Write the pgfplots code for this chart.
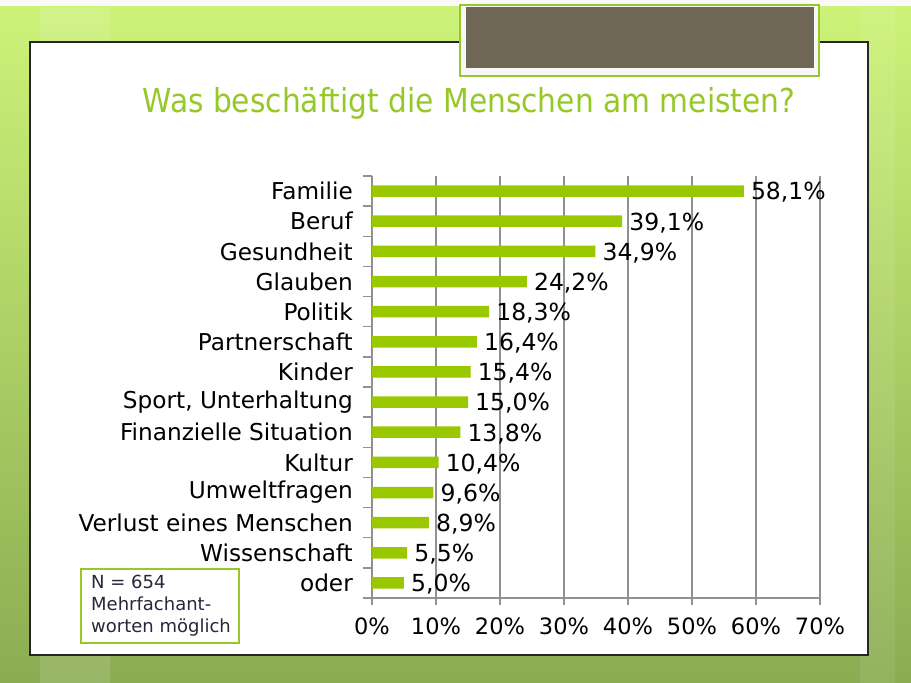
\documentclass[border=0pt]{standalone}
\usepackage{pgfplots}
\pgfplotsset{compat=1.18}
\usepackage{fontspec}
\setmainfont{DejaVu Sans}
\newfontfamily\titlefont{DejaVu Sans Condensed}
\definecolor{bargreen}{RGB}{153,200,0}
\definecolor{titlegreen}{RGB}{150,200,40}
\definecolor{bgtop}{RGB}{205,242,120}
\definecolor{bgbot}{RGB}{140,172,82}
\definecolor{brownbox}{RGB}{112,102,86}
\definecolor{gridgray}{RGB}{145,145,145}
\definecolor{notetext}{RGB}{45,35,60}
\begin{document}
\begin{tikzpicture}[x=1pt,y=1pt]
\useasboundingbox (0,0) rectangle (911,683);
% background
\fill[white!96!gray] (0,0) rectangle (911,683);
\shade[top color=bgtop, bottom color=bgbot] (0,0) rectangle (911,676);
\fill[white, opacity=0.12] (40,0) rectangle (110,676);
\fill[white, opacity=0.08] (860,0) rectangle (895,676);
% panel
\filldraw[fill=white, draw=black!85, line width=1.5pt] (30,28) rectangle (868,641);
% brown box
\filldraw[fill=white!94!gray, draw=titlegreen, line width=2pt] (460,607) rectangle (819,678);
\fill[brownbox] (466,615) rectangle (814,676);
% title
\node[anchor=base, text=titlegreen, font=\titlefont\fontsize{33}{38}\selectfont] at (469,570) {Was beschäftigt die Menschen am meisten?};
% note
\draw[titlegreen, line width=2pt] (81,40) rectangle (239,114);
\node[anchor=north west, inner sep=0pt, align=left, text=notetext,
  font=\fontsize{18}{22}\selectfont] at (91,108) {N = 654\\Mehrfachant-\\worten möglich};
\begin{axis}[
  at={(372pt,85pt)}, anchor=south west,
  scale only axis, width=448pt, height=422pt,
  clip=false,
  xbar, bar width=11.5pt,
  xmin=0, xmax=70,
  ymin=-0.5, ymax=13.5, y dir=reverse,
  axis x line*=bottom, axis y line*=left,
  axis line style={-, draw=gridgray, line width=1.5pt},
  xtick={0,10,...,70},
  xticklabels={0\%,10\%,20\%,30\%,40\%,50\%,60\%,70\%},
  ytick={0,...,13},
  yticklabels={Familie,Beruf,Gesundheit,Glauben,Politik,Partnerschaft,Kinder,{Sport, Unterhaltung},Finanzielle Situation,Kultur,Umweltfragen,Verlust eines Menschen,Wissenschaft,oder},
  minor ytick={-0.5,0.5,1.5,2.5,3.5,4.5,5.5,6.5,7.5,8.5,9.5,10.5,11.5,12.5,13.5},
  tick align=outside,
  major x tick style={draw=gridgray, line width=1.5pt},
  minor y tick style={draw=gridgray, line width=1.5pt},
  major y tick style={draw=none},
  major tick length=7pt, minor tick length=9pt,
  xmajorgrids, grid style={draw=gridgray, line width=1.5pt},
  ticklabel style={font=\fontsize{22.5}{27}\selectfont, text=black, inner sep=0pt},
  xticklabel style={anchor=north},
  yticklabel style={anchor=east, font=\fontsize{23.2}{27}\selectfont},
  xticklabel shift=13pt,
  yticklabel shift=12pt,
  nodes near coords={\pgfmathprintnumber[fixed,fixed zerofill,precision=1,use comma,assume math mode=true]{\pgfplotspointmeta}\%},
  nodes near coords style={anchor=west, inner sep=0pt, xshift=7pt, yshift=-1.5pt, text=black, font=\fontsize{23.5}{27}\selectfont},
  point meta=x,
]
\addplot[fill=bargreen, draw=none] coordinates {
(58.1,0) (39.1,1) (34.9,2) (24.2,3) (18.3,4) (16.4,5) (15.4,6)
(15.0,7) (13.8,8) (10.4,9) (9.6,10) (8.9,11) (5.5,12) (5.0,13)
};
\end{axis}
\end{tikzpicture}
\end{document}
